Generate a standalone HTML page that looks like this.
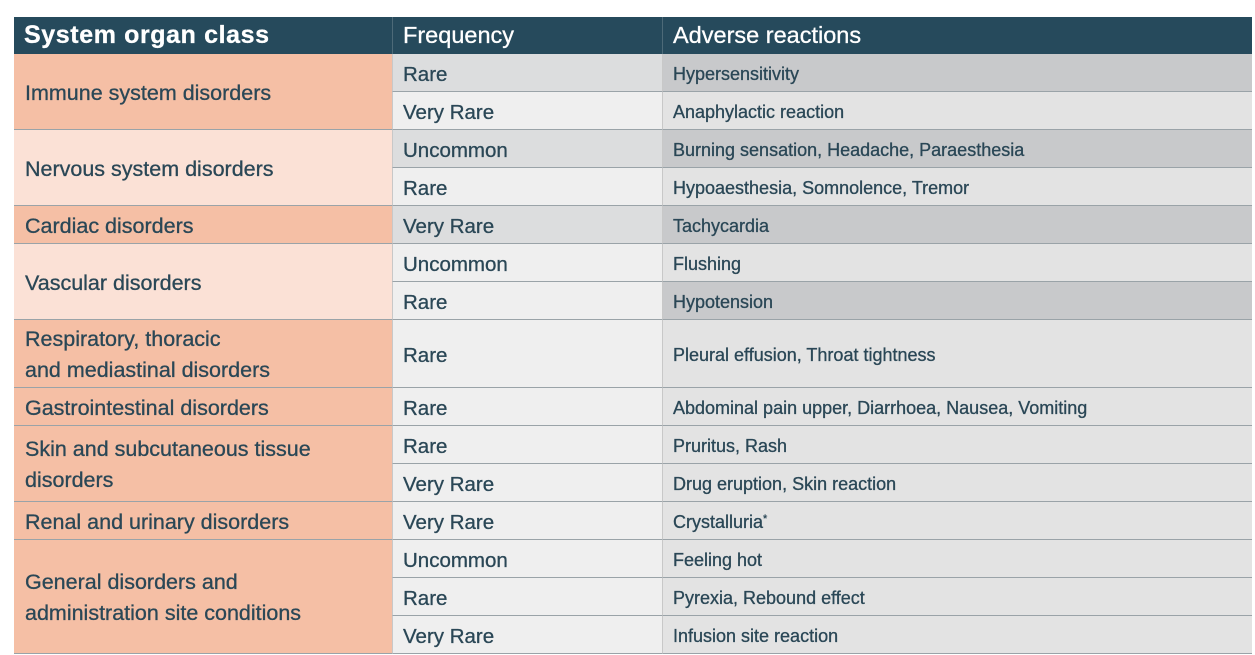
<!DOCTYPE html>
<html><head><meta charset="utf-8"><style>
body{margin:0;width:1255px;height:655px;background:#fff;position:relative;overflow:hidden;font-family:"Liberation Sans",sans-serif;color:#2a4756}
.c{position:absolute;box-sizing:border-box;display:flex;align-items:center;border-bottom:1px solid #9aa3a8;line-height:31px;padding-top:3px;-webkit-text-stroke:0.3px #2a4756}
.a{left:14px;width:378px;padding-left:11px;font-size:21.5px}
.b{left:392px;width:270px;padding-left:10px;font-size:20.5px;border-left:1px solid #c8c8c8}
.r{left:662px;width:590px;padding-left:10px;font-size:18px;border-left:1px solid #c8c8c8}
.h{background:#264a5c;color:#fff;font-size:24px;border:none;-webkit-text-stroke:0.3px #fff}
.d{background:#f5bfa5}.l{background:#fbe1d6}
.b1{background:#dcddde}.b2{background:#efefef}
.r1{background:#c8c9cb}.r2{background:#e3e3e3}
</style></head><body>
<div class="c h a" style="top:17px;height:37px;font-weight:bold;font-size:25px;padding-left:10px;padding-top:0;letter-spacing:0.6px">System organ class</div>
<div class="c h b" style="top:17px;height:37px;border-left:1px solid #4d6a78;font-size:23.5px;padding-top:0">Frequency</div>
<div class="c h r" style="top:17px;height:37px;border-left:1px solid #4d6a78;font-size:23.5px;padding-top:0">Adverse reactions</div>

<div class="c a d" style="top:54px;height:76px">Immune system disorders</div>
<div class="c b b1" style="top:54px;height:38px">Rare</div>
<div class="c r r1" style="top:54px;height:38px">Hypersensitivity</div>
<div class="c b b2" style="top:92px;height:38px">Very Rare</div>
<div class="c r r2" style="top:92px;height:38px">Anaphylactic reaction</div>

<div class="c a l" style="top:130px;height:76px">Nervous system disorders</div>
<div class="c b b1" style="top:130px;height:38px">Uncommon</div>
<div class="c r r1" style="top:130px;height:38px">Burning sensation, Headache, Paraesthesia</div>
<div class="c b b2" style="top:168px;height:38px">Rare</div>
<div class="c r r2" style="top:168px;height:38px">Hypoaesthesia, Somnolence, Tremor</div>

<div class="c a d" style="top:206px;height:38px">Cardiac disorders</div>
<div class="c b b1" style="top:206px;height:38px">Very Rare</div>
<div class="c r r1" style="top:206px;height:38px">Tachycardia</div>

<div class="c a l" style="top:244px;height:76px">Vascular disorders</div>
<div class="c b b2" style="top:244px;height:38px">Uncommon</div>
<div class="c r r2" style="top:244px;height:38px">Flushing</div>
<div class="c b b2" style="top:282px;height:38px">Rare</div>
<div class="c r r1" style="top:282px;height:38px">Hypotension</div>

<div class="c a d" style="top:320px;height:68px">Respiratory, thoracic<br>and mediastinal disorders</div>
<div class="c b b2" style="top:320px;height:68px">Rare</div>
<div class="c r r2" style="top:320px;height:68px">Pleural effusion, Throat tightness</div>

<div class="c a d" style="top:388px;height:38px">Gastrointestinal disorders</div>
<div class="c b b2" style="top:388px;height:38px">Rare</div>
<div class="c r r2" style="top:388px;height:38px">Abdominal pain upper, Diarrhoea, Nausea, Vomiting</div>

<div class="c a d" style="top:426px;height:76px">Skin and subcutaneous tissue<br>disorders</div>
<div class="c b b2" style="top:426px;height:38px">Rare</div>
<div class="c r r2" style="top:426px;height:38px">Pruritus, Rash</div>
<div class="c b b2" style="top:464px;height:38px">Very Rare</div>
<div class="c r r2" style="top:464px;height:38px">Drug eruption, Skin reaction</div>

<div class="c a d" style="top:502px;height:38px">Renal and urinary disorders</div>
<div class="c b b2" style="top:502px;height:38px">Very Rare</div>
<div class="c r r2" style="top:502px;height:38px">Crystalluria<sup style="font-size:11px;line-height:0;position:relative;top:-3px">*</sup></div>

<div class="c a d" style="top:540px;height:114px">General disorders and<br>administration site conditions</div>
<div class="c b b2" style="top:540px;height:38px">Uncommon</div>
<div class="c r r2" style="top:540px;height:38px">Feeling hot</div>
<div class="c b b2" style="top:578px;height:38px">Rare</div>
<div class="c r r2" style="top:578px;height:38px">Pyrexia, Rebound effect</div>
<div class="c b b2" style="top:616px;height:38px">Very Rare</div>
<div class="c r r2" style="top:616px;height:38px">Infusion site reaction</div>
</body></html>
